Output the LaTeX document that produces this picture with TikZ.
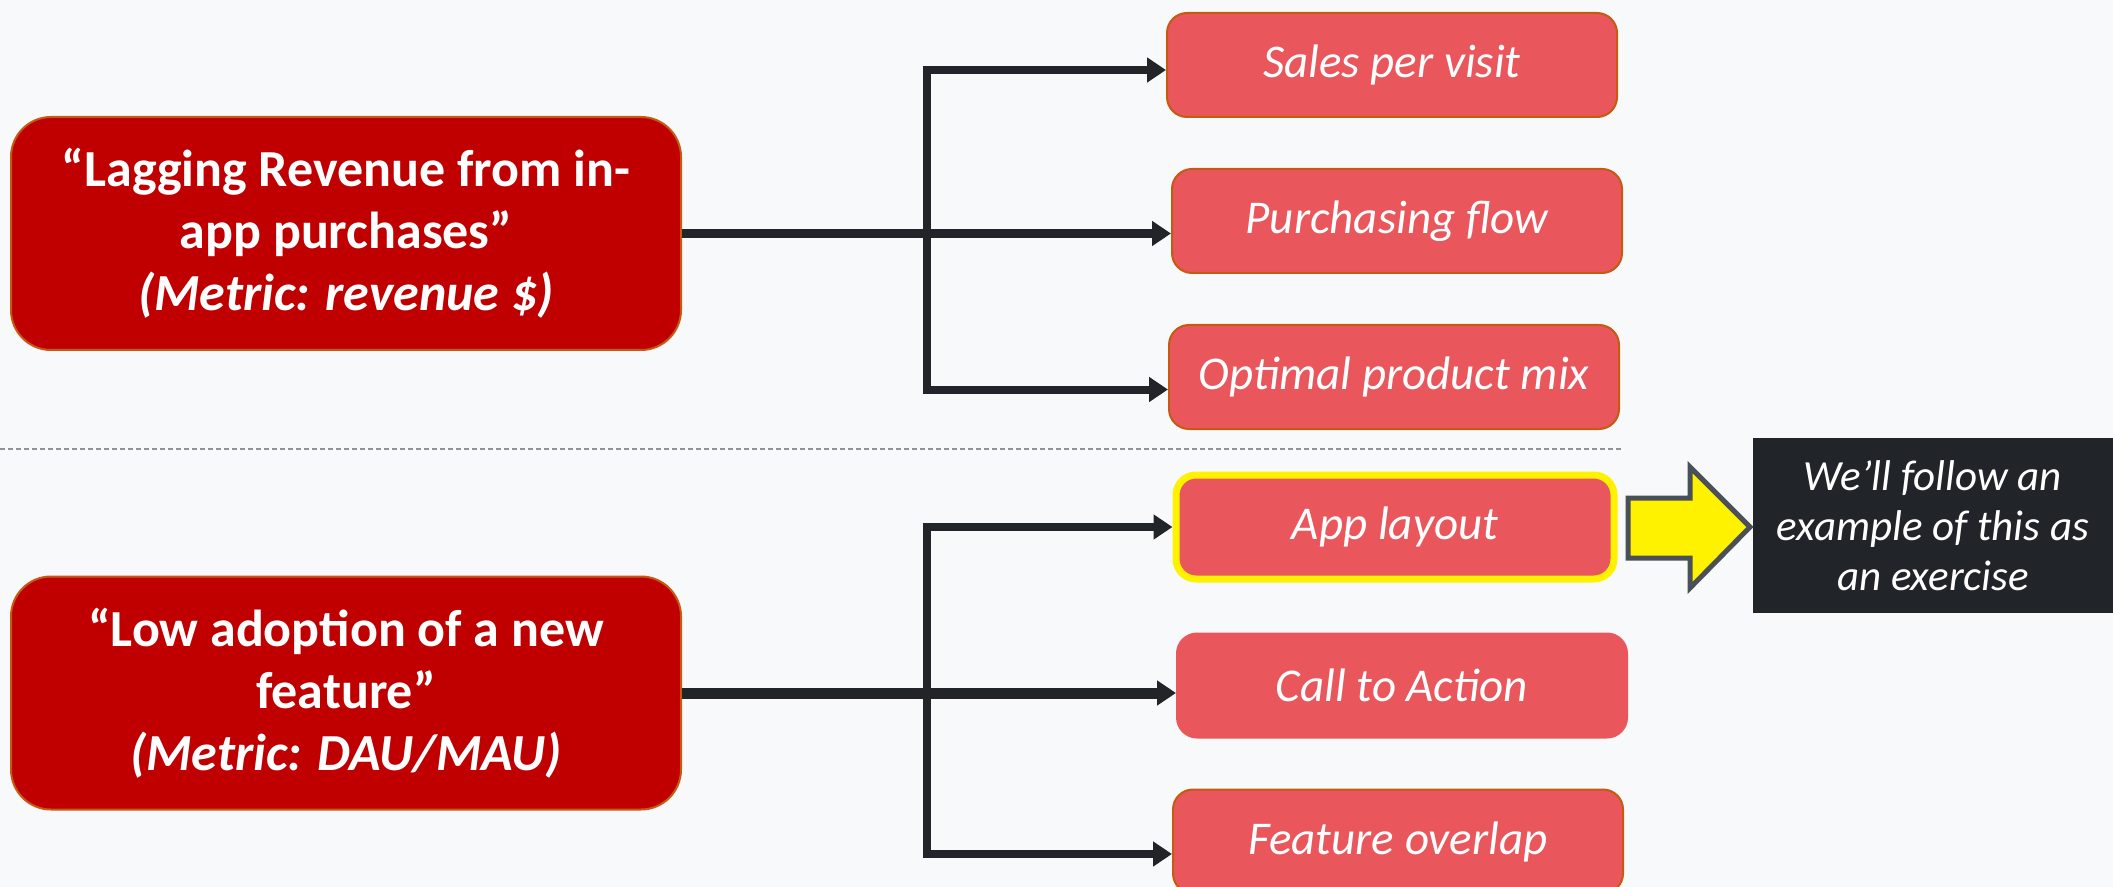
\documentclass[tikz,border=0pt]{standalone}
\usepackage{fontspec}
\setmainfont{Carlito}
\usetikzlibrary{positioning, arrows.meta}

\definecolor{pagebg}{HTML}{F8F9FA}
\definecolor{probred}{HTML}{C00000}
\definecolor{rimorange}{HTML}{C55A11}
\definecolor{leafred}{HTML}{E9575D}
\definecolor{inkdark}{HTML}{212529}
\definecolor{slategray}{HTML}{495057}
\definecolor{dashgray}{HTML}{8E9398}

\begin{document}
\begin{tikzpicture}[
    x=0.5pt, y=-0.5pt,
    problem/.style={rectangle, rounded corners=20pt, draw=rimorange, line width=1pt, fill=probred, text=white, align=center, font=\fontsize{26}{31}\selectfont\bfseries, minimum width=335pt, minimum height=116.5pt},
    leaf/.style={rectangle, rounded corners=10pt, draw=rimorange, line width=1pt, fill=leafred, text=white, font=\fontsize{23.5}{28}\selectfont\itshape, minimum width=225pt, minimum height=52pt},
    note/.style={rectangle, fill=inkdark, text=white, align=center, font=\fontsize{21.5}{25}\selectfont\itshape, minimum width=180pt, minimum height=87.5pt},
    conn/.style={draw=inkdark, line width=4pt, -{Triangle[length=9.5pt, width=12pt]}},
    trunk/.style={conn, line width=4.5pt}
]

% Canvas
\fill[pagebg] (0,0) rectangle (2113,887);
\useasboundingbox (0,0) rectangle (2113,887);

% Divider between the two problems
\draw[dashgray, line width=0.8pt, dash pattern=on 2.5pt off 1.5pt] (0,449) -- (1624,449);

% Problems
\node (revenue) [problem] at (346,233.5) {“Lagging Revenue from in-\\app purchases”\\\itshape(Metric: revenue \$)};
\node (adoption) [problem] at (346,693) {“Low adoption of a new\\feature”\\\itshape(Metric: DAU/MAU)};

% Drivers of revenue
\node (sales) [leaf] at (1392,65) {Sales per visit};
\node (purchase) [leaf, below=25pt of sales, xshift=2.5pt] {Purchasing flow};
\node (productmix) [leaf, below=25pt of purchase, xshift=-1.5pt] {Optimal product mix};

% Drivers of adoption
\node (applayout) [leaf, draw=yellow, line width=3.5pt, minimum width=219pt] at (1395,527) {App layout};
\node (calltoaction) [leaf, draw=leafred, below=25pt of applayout, xshift=3.5pt] {Call to Action};
\node (overlap) [leaf, below=25pt of calltoaction, xshift=-2pt] {Feature overlap};

% Side note
\node (exercise) [note] at (1933,525.5) {We’ll follow an\\example of this as\\an exercise};

% Fork points
\coordinate (forkA) at ([xshift=122.5pt]revenue.east);
\coordinate (forkB) at ([xshift=122.5pt]adoption.east);

% Arrows
\draw [trunk] (revenue.east) -- (revenue.east -| purchase.west);
\draw [conn] (forkA) |- ([yshift=-2.5pt]sales.west);
\draw [conn] (forkA) |- ([yshift=-6.25pt]productmix.west);

\draw [trunk, line width=5.5pt] (adoption.east) -- (adoption.east -| calltoaction.west);
\draw [conn] (forkB) |- (applayout.west);
\draw [conn] (forkB) |- ([yshift=-6.25pt]overlap.west);

% Block arrow to the note
\draw [draw=slategray, line width=2.5pt, fill=yellow, line join=miter]
    (1628,498) -- (1690,498) -- (1690,467) -- (1750,527) -- (1690,588) -- (1690,558) -- (1628,558) -- cycle;

\end{tikzpicture}
\end{document}
